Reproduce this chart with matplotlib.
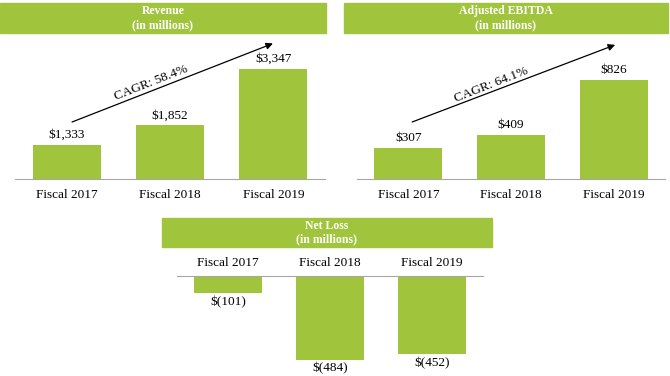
import matplotlib.pyplot as plt
from matplotlib.patches import Rectangle

plt.rcParams['font.family'] = ['Liberation Serif', 'DejaVu Serif']

years = ["Fiscal 2017", "Fiscal 2018", "Fiscal 2019"]
revenue = [1333, 1852, 3347]
ebitda = [307, 409, 826]
net_loss = [-101, -484, -452]

revenue_labels = ["$1,333", "$1,852", "$3,347"]
ebitda_labels = ["$307", "$409", "$826"]
loss_labels = ["$(101)", "$(484)", "$(452)"]

GREEN = '#a0c43c'
GRID = '#a6a6a6'
W, H = 670, 376

fig = plt.figure(figsize=(6.7, 3.76), dpi=100)


# pixel box -> figure fraction
def px(x0, y0, x1, y1):
    return [x0 / W, 1 - y1 / H, (x1 - x0) / W, (y1 - y0) / H]


def header(x0, y0, x1, y1, title):
    l, b, w, h = px(x0, y0, x1, y1)
    fig.patches.append(Rectangle((l, b), w, h, transform=fig.transFigure,
                                 color=GREEN, zorder=0))
    fig.text(l + w / 2, b + h / 2, title + "\n(in millions)", ha='center',
             va='center', color='white', fontsize=8.5, fontweight='bold',
             linespacing=1.2)


def bar_panel(box, values, labels, ylim, cagr, arrow, text_pos):
    ax = fig.add_axes(px(*box))
    x = range(len(values))
    ax.bar(x, values, width=0.66, color=GREEN)
    ax.set_xlim(-0.5, 2.5)
    ax.set_ylim(*ylim)
    for xi, v, lab in zip(x, values, labels):
        ax.annotate(lab, (xi, v), xytext=(0, 3), textcoords='offset points',
                    ha='center', va='bottom', fontsize=9.5)
    for s in ['top', 'right', 'left']:
        ax.spines[s].set_visible(False)
    ax.spines['bottom'].set_color(GRID)
    ax.set_yticks([])
    ax.set_xticks(list(x))
    ax.set_xticklabels(years, fontsize=9.5)
    ax.tick_params(axis='x', length=0, pad=7)
    ax.annotate('', xy=arrow[1], xytext=arrow[0], xycoords='axes fraction',
                arrowprops=dict(arrowstyle='-|>', color='black', lw=0.9,
                                mutation_scale=10, shrinkA=0, shrinkB=0))
    ax.text(text_pos[0], text_pos[1], cagr, transform=ax.transAxes,
            rotation=21.5, ha='center', va='center', fontsize=9.5)
    return ax


header(0, 3, 326, 33, "Revenue")
header(344, 3, 668, 33, "Adjusted EBITDA")
header(162, 218, 492, 247, "Net Loss")

bar_panel((15, 40, 325, 179), revenue, revenue_labels, (432, 4120),
          "CAGR: 58.4%", ((0.184, 0.41), (0.832, 0.975)), (0.44, 0.69))
bar_panel((357, 40, 665, 179), ebitda, ebitda_labels, (74, 1127),
          "CAGR: 64.1%", ((0.179, 0.41), (0.838, 0.965)), (0.435, 0.68))

# net loss panel hangs from the zero line
ax = fig.add_axes(px(177, 276, 483, 376))
x = range(len(net_loss))
ax.bar(x, net_loss, width=0.66, color=GREEN)
ax.set_xlim(-0.5, 2.5)
ax.set_ylim(-578, 0)
for xi, v, lab in zip(x, net_loss, loss_labels):
    ax.annotate(lab, (xi, v), xytext=(0, -2), textcoords='offset points',
                ha='center', va='top', fontsize=9.5, annotation_clip=False)
for s in ['bottom', 'right', 'left']:
    ax.spines[s].set_visible(False)
ax.spines['top'].set_color(GRID)
ax.set_yticks([])
ax.xaxis.tick_top()
ax.set_xticks(list(x))
ax.set_xticklabels(years, fontsize=9.5)
ax.tick_params(axis='x', length=0, pad=5)
for lab in ax.get_xticklabels():
    lab.set_clip_on(False)

fig.savefig('out.png', dpi=100)
